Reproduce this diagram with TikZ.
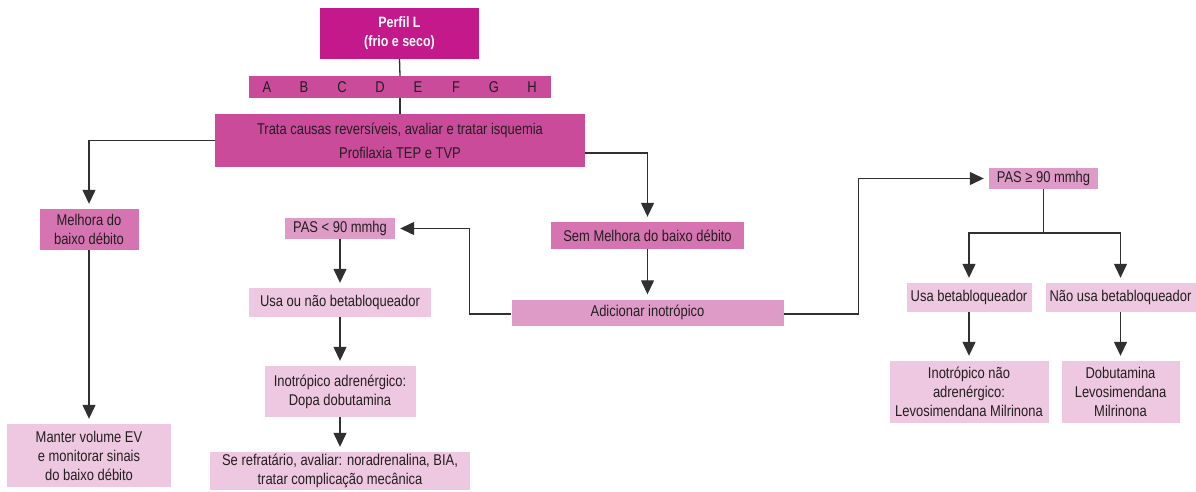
\documentclass[tikz,border=0pt]{standalone}
\usepackage{fontspec}
\setmainfont{Liberation Sans}[FakeStretch=0.83]
\usetikzlibrary{arrows.meta}

\definecolor{cTop}{HTML}{C4198A}
\definecolor{cStrong}{HTML}{CB4B9B}
\definecolor{cMid}{HTML}{D674B1}
\definecolor{cSoft}{HTML}{DF9BC7}
\definecolor{cPale}{HTML}{EEC8E0}
\definecolor{cInk}{HTML}{231E20}
\definecolor{cLine}{HTML}{303030}

\tikzset{
  box/.style={rectangle, inner sep=0pt, align=center, text=cInk,
              font=\fontsize{15.6}{19}\selectfont},
  topbox/.style={box, fill=cTop, text=white, font=\fontsize{15}{19}\selectfont\bfseries},
  strongbox/.style={box, fill=cStrong},
  midbox/.style={box, fill=cMid},
  softbox/.style={box, fill=cSoft},
  palebox/.style={box, fill=cPale},
  letter/.style={inner sep=0pt, text=cInk, font=\fontsize{15.6}{19}\selectfont},
  link/.style={draw=cLine, line width=1.3pt},
  arr/.style={link, -{Triangle[width=13pt,length=14pt]}, shorten >=5pt},
}

\begin{document}
\begin{tikzpicture}[x=1pt, y=-1pt]
\useasboundingbox (0,0) rectangle (1196,491);

% header and letter bar
\node[topbox, minimum width=159pt, minimum height=51pt] (perfil) at (399.5,33.5)
  {Perfil L\\(frio e seco)};
\node[strongbox, minimum width=302pt, minimum height=22pt] (bar) at (400,87) {};
\foreach \l/\x in {A/267,B/304,C/342,D/380,E/418,F/456,G/494,H/532}
  \node[letter] (l\l) at (\x,87.5) {\l};

\node[strongbox, minimum width=370pt, minimum height=53pt] (trata) at (400,140.5)
  {Trata causas reversíveis, avaliar e tratar isquemia\\[5pt]Profilaxia TEP e TVP};

% left branch
\node[midbox, minimum width=99pt, minimum height=41pt] (melhora) at (89,229.5)
  {Melhora do\\baixo débito};
\node[palebox, minimum width=164pt, minimum height=63pt] (manter) at (89,455.5)
  {Manter volume EV\\e monitorar sinais\\do baixo débito};

% central branch
\node[midbox, minimum width=193pt, minimum height=27pt] (sem) at (647.5,235.5)
  {Sem Melhora do baixo débito};
\node[softbox, minimum width=272pt, minimum height=26pt] (adic) at (647.5,312.5)
  {Adicionar inotrópico};

% low pressure column
\node[softbox, minimum width=110pt, minimum height=21pt] (paslow) at (340,228.5)
  {PAS < 90 mmhg};
\node[palebox, minimum width=182pt, minimum height=29pt] (usaounao) at (340,302.5)
  {Usa ou não betabloqueador};
\node[palebox, minimum width=151pt, minimum height=51pt] (inoadr) at (340,391.5)
  {Inotrópico adrenérgico:\\Dopa dobutamina};
\node[palebox, minimum width=260pt, minimum height=38pt] (refr) at (340,471)
  {Se refratário, avaliar: noradrenalina, BIA,\\tratar complicação mecânica};

% normal pressure column
\node[softbox, minimum width=109pt, minimum height=21pt] (pashigh) at (1043.5,178.5)
  {PAS ≥ 90 mmhg};
\node[palebox, minimum width=125pt, minimum height=29pt] (usabeta) at (969,297.5)
  {Usa betabloqueador};
\node[palebox, minimum width=150pt, minimum height=29pt] (naousa) at (1120.5,297.5)
  {Não usa betabloqueador};
\node[palebox, minimum width=159pt, minimum height=62pt] (inonao) at (969,392)
  {Inotrópico não\\adrenérgico:\\Levosimendana Milrinona};
\node[palebox, minimum width=118pt, minimum height=62pt] (dobut) at (1120.5,392)
  {Dobutamina\\Levosimendana\\Milrinona};
\coordinate (fork) at (1043.5,233);

% connectors
\draw[link] (perfil.south) -- (bar.north);
\draw[link] (bar.south) -- (trata.north);
\draw[arr] (trata.west) -| (melhora.north);
\draw[arr] ([yshift=-12.5pt]trata.east) -| (sem.north);
\draw[arr] (melhora.south) -- (manter.north);
\draw[arr] (sem.south) -- (adic.north);
\draw[arr] ([yshift=-1.5pt]adic.west) -- ++(-42,0) |- (paslow.east);
\draw[arr] ([yshift=-1.5pt]adic.east) -- ++(75,0) |- (pashigh.west);
\draw[arr] (paslow.south) -- (usaounao.north);
\draw[arr] (usaounao.south) -- (inoadr.north);
\draw[arr] (inoadr.south) -- (refr.north);
\draw[link] (pashigh.south) -- (fork);
\draw[arr] (fork) -| (usabeta.north);
\draw[arr] (fork) -| (naousa.north);
\draw[arr] (usabeta.south) -- (inonao.north);
\draw[arr] (naousa.south) -- (dobut.north);
\end{tikzpicture}
\end{document}
